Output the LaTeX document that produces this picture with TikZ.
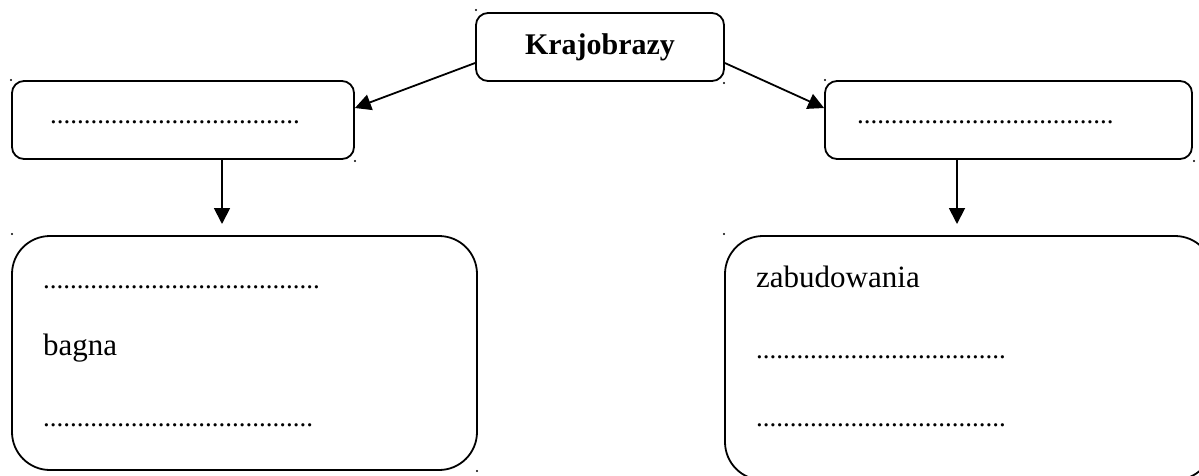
\documentclass[tikz,border=0pt]{standalone}
\usepackage{fontspec}
\setmainfont{Liberation Serif}
\usetikzlibrary{arrows.meta,calc}
\newcommand\kropki[1]{{\fontsize{27}{27}\selectfont\foreach \i in {1,...,#1}{.}}}
\tikzset{
  box/.style={draw, line width=1.8pt, rounded corners=12pt, inner sep=0pt, anchor=center},
  bigbox/.style={draw, line width=1.8pt, rounded corners=38pt, inner sep=0pt, anchor=center},
  arr/.style={line width=1.8pt, -{Triangle[length=16pt,width=16pt]}},
  txt/.style={anchor=base west, inner sep=0pt, font=\fontsize{31}{31}\selectfont},
  anchormark/.style={fill=black},
}
\begin{document}
\begin{tikzpicture}[x=1pt,y=-1pt]
\useasboundingbox (0,0) rectangle (1199,475);
\clip (0,0) rectangle (1199,475);
\fill[white] (0,0) rectangle (1199,475);

% boxes
\node[box, minimum width=248pt, minimum height=68pt, font=\fontsize{30}{30}\selectfont\bfseries] (top) at (600,47) {Krajobrazy};
\node[box, minimum width=342pt, minimum height=78pt] (lmid) at (183,120) {};
\node[box, minimum width=367pt, minimum height=78pt] (rmid) at (1008.5,120) {};
\node[bigbox, minimum width=465pt, minimum height=234pt] (lbot) at (244.5,353) {};
\node[bigbox, minimum width=488pt, minimum height=244pt] (rbot) at (969,358) {};

% texts
\node[txt] (lmidt) at (50,123) {\kropki{37}};
\node[txt] (rmidt) at (857,123) {\kropki{38}};
\node[txt] (lb1) at (43,288) {\kropki{41}};
\node[txt] (lb2) at (43,355) {bagna};
\node[txt] (lb3) at (43,426) {\kropki{40}};
\node[txt] (rb1) at (756,287) {zabudowania};
\node[txt] (rb2) at (756,358) {\kropki{37}};
\node[txt] (rb3) at (756,426) {\kropki{37}};

% connectors
\draw[arr] ($(top.west)+(0,16)$) -- ($(lmid.east)+(0,-12)$);
\draw[arr] ($(top.east)+(0,16)$) -- ($(rmid.west)+(0,-12)$);
\coordinate (la) at (222,224);
\coordinate (ra) at (957,224);
\draw[arr] (lmid.south -| la) -- (la);
\draw[arr] (rmid.south -| ra) -- (ra);

% anchor marks
\foreach \p in {(476,10),(724,83),(11,80),(355,161),(825,80),(1194,161),(12,234),(477,471),(724,234)}
  \fill[anchormark] \p circle (1.1pt);
\end{tikzpicture}
\end{document}
